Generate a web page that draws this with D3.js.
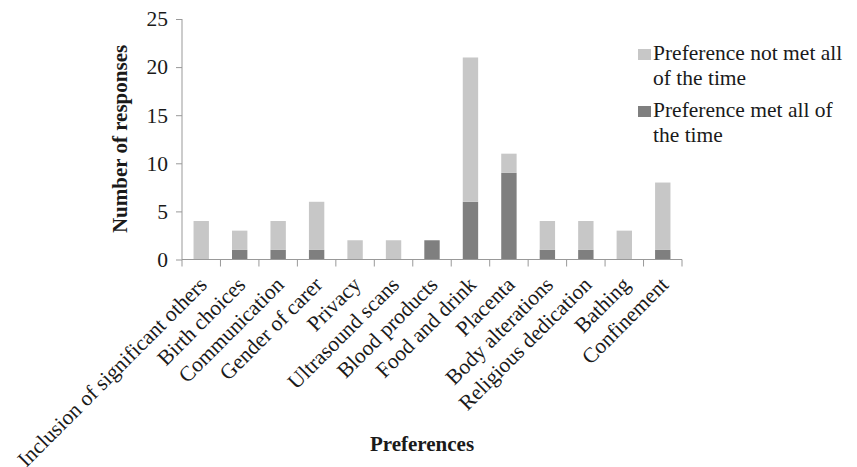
<!DOCTYPE html>
<html>
<head>
<meta charset="utf-8">
<script src="https://cdn.jsdelivr.net/npm/d3@7"></script>
<style>
  body { margin: 0; background: #fff; }
  svg text { font-family: "Liberation Serif", "Times New Roman", serif; fill: #1a1a1a; }
</style>
</head>
<body>
<svg class="chart" width="857" height="467"></svg>
<script>
var categories = ["Inclusion of significant others", "Birth choices", "Communication",
    "Gender of carer", "Privacy", "Ultrasound scans", "Blood products", "Food and drink",
    "Placenta", "Body alterations", "Religious dedication", "Bathing", "Confinement"];
var metAll = [0, 1, 1, 1, 0, 0, 2, 6, 9, 1, 1, 0, 1];
var notMetAll = [4, 2, 3, 5, 2, 2, 0, 15, 2, 3, 3, 3, 7];
var yTicks = [0, 5, 10, 15, 20, 25];
var seriesNames = ["Preference not met all of the time", "Preference met all of the time"];
var legendLines = [["Preference not met all", "of the time"], ["Preference met all of", "the time"]];

var colors = {met: "#7f7f7f", notMet: "#c7c7c7"};
var serif = "Liberation Serif";

var svg = d3.select(".chart");

var x = d3.scaleBand()
    .domain(categories)
    .range([182, 682])
    .paddingInner(0.6)
    .paddingOuter(0.3);

var y = d3.scaleLinear()
    .domain([0, 25])
    .range([259.5, 19]);

var rows = categories.map(function(c, i) {
    return {cat: c, met: metAll[i], notMet: notMetAll[i]};
});
var stack = d3.stack().keys(["met", "notMet"])(rows);

svg.append("g")
    .selectAll("g")
    .data(stack)
    .enter().append("g")
    .attr("fill", function(d) { return colors[d.key]; })
    .selectAll("rect")
    .data(function(d) { return d; })
    .enter().append("rect")
    .attr("x", function(d) { return x(d.data.cat); })
    .attr("width", x.bandwidth())
    .attr("y", function(d) { return y(d[1]); })
    .attr("height", function(d) { return y(d[0]) - y(d[1]); });

// y axis
var yAxis = svg.append("g")
    .attr("transform", "translate(182,0)")
    .call(d3.axisLeft(y).tickValues(yTicks).tickSize(6).tickPadding(8));
yAxis.attr("font-family", serif);
yAxis.select(".domain").attr("stroke", "#999").attr("d", "M0,19V259.5");
yAxis.selectAll(".tick line").attr("stroke", "#999");
yAxis.selectAll(".tick text").style("font-size", "21.5px").attr("fill", "#1a1a1a");

// x axis, ticks sit between the bands
var xAxis = svg.append("g");
xAxis.append("line")
    .attr("x1", 182).attr("x2", 682)
    .attr("y1", y(0)).attr("y2", y(0))
    .attr("stroke", "#999");
xAxis.selectAll(".xt")
    .data(d3.range(categories.length + 1))
    .enter().append("line")
    .attr("x1", function(i) { return 182 + i * 500 / categories.length; })
    .attr("x2", function(i) { return 182 + i * 500 / categories.length; })
    .attr("y1", y(0)).attr("y2", y(0) + 7)
    .attr("stroke", "#999");

xAxis.selectAll(".xl")
    .data(categories)
    .enter().append("text")
    .attr("text-anchor", "end")
    .style("font-size", "21.5px")
    .attr("transform", function(d) {
        var cx = x(d) + x.bandwidth() / 2 + 7;
        return "translate(" + cx + "," + 286 + ") rotate(-45)";
    })
    .text(function(d) { return d; });

// axis titles
svg.append("text")
    .attr("transform", "translate(127,139) rotate(-90)")
    .attr("text-anchor", "middle")
    .style("font-size", "21px")
    .style("font-weight", "bold")
    .text("Number of responses");

svg.append("text")
    .attr("x", 422).attr("y", 451)
    .attr("text-anchor", "middle")
    .style("font-size", "21px")
    .style("font-weight", "bold")
    .text("Preferences");

// legend
var legendColors = [colors.notMet, colors.met];
seriesNames.forEach(function(name, i) {
    var g = svg.append("g").attr("transform", "translate(638," + (49 + i * 57) + ")");
    g.append("rect")
        .attr("width", 13).attr("height", 11)
        .attr("fill", legendColors[i]);
    legendLines[i].forEach(function(line, j) {
        g.append("text")
            .attr("x", 15)
            .attr("y", 11 + j * 25)
            .attr("font-family", serif)
            .style("font-size", "21.5px")
            .text(line);
    });
});
</script>
</body>
</html>
